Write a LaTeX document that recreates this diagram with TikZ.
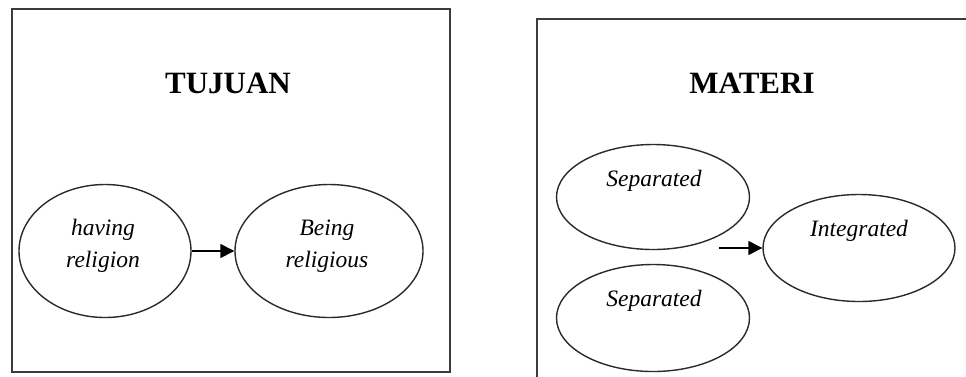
\documentclass[tikz,border=0pt]{standalone}
\usepackage{fontspec}
\setmainfont{Liberation Serif}
\usetikzlibrary{shapes.geometric,arrows.meta}
\definecolor{boxline}{HTML}{3C3C3C}
\definecolor{ellline}{HTML}{2A2A2A}
\tikzset{
  frame/.style={draw=boxline,line width=2pt},
  oval/.style={draw=ellline,line width=1.4pt,ellipse,inner sep=0pt},
  title/.style={font=\fontsize{31}{36}\selectfont\bfseries,inner sep=0pt},
  lbl/.style={font=\fontsize{23.5}{32}\selectfont\itshape,align=center,inner sep=0pt},
  conn/.style={draw=black,line width=1.4pt,-{Triangle[length=14pt,width=14pt]}}
}
\begin{document}
\begin{tikzpicture}[x=1pt,y=-1pt]
\useasboundingbox (0,0) rectangle (966,376);
% left box
\draw[frame] (12,9) rectangle (450,372);
\node[title] (tujuan) at (228,83) {TUJUAN};
\node[oval,minimum width=172pt,minimum height=133pt] (have) at (105,251) {};
\node[oval,minimum width=188pt,minimum height=133pt] (being) at (329,251) {};
\node[lbl] (havet) at (103,246) {having\\religion};
\node[lbl] (beingt) at (327,246) {Being\\religious};
\draw[conn] (have.east) -- (being.west);
% right box
\draw[frame] (968,19) -- (537,19) -- (537,378);
\node[title] (materi) at (752,83) {MATERI};
\node[oval,minimum width=193pt,minimum height=105pt] (sep1) at (653,197) {};
\node[oval,minimum width=193pt,minimum height=107pt] (sep2) at (653,318) {};
\node[oval,minimum width=192pt,minimum height=107pt] (integ) at (859,248) {};
\node[lbl] (sep1t) at (654,181) {Separated};
\node[lbl] (sep2t) at (654,301) {Separated};
\node[lbl] (integt) at (859,231) {Integrated};
\coordinate (joint) at (719,248);
\draw[conn] (joint) -- (integ.west);
\end{tikzpicture}
\end{document}
